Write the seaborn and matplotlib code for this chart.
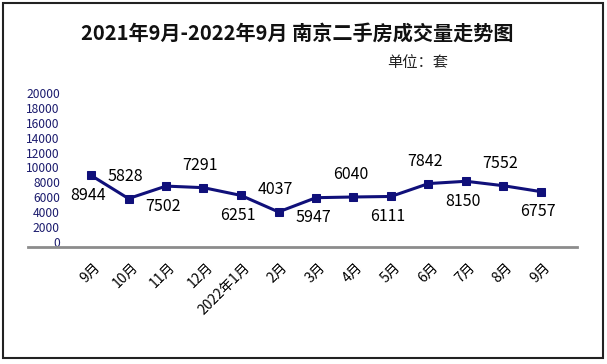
import pandas as pd
import numpy as np
import seaborn as sns
import matplotlib.pyplot as plt
import matplotlib.transforms as mtransforms
from matplotlib.patches import Rectangle

# data
months = ['9月', '10月', '11月', '12月', '2022年1月', '2月', '3月',
          '4月', '5月', '6月', '7月', '8月', '9月']
volumes = [8944, 5828, 7502, 7291, 6251, 4037, 5947,
           6040, 6111, 7842, 8150, 7552, 6757]
y_ticks = list(range(0, 20001, 2000))

title = '2021年9月-2022年9月 南京二手房成交量走势图'
unit = '单位：套'

sns.set_style('white')
plt.rcParams['font.family'] = ['Noto Sans CJK SC', 'DejaVu Sans']

line_col = '#10107a'
tick_col = '#1c1c6e'

df = pd.DataFrame({'pos': np.arange(len(months)), 'month': months, 'volume': volumes})

fig = plt.figure(figsize=(6.07, 3.64), dpi=100)
ax = fig.add_axes([28 / 607, 117 / 364, 549 / 607, 158.5 / 364])

sns.lineplot(ax=ax, data=df, x='pos', y='volume', sort=False, color=line_col,
             linewidth=2.2, marker='s', markersize=6, markeredgecolor=line_col)

# alternating data labels: below, above, below ...
for i, row in df.iterrows():
    dy = -20 if i % 2 == 0 else 22
    ax.annotate(str(row.volume), (row.pos, row.volume), xytext=(-3, dy),
                textcoords='offset pixels', ha='center', va='center',
                fontsize=11.5, color='black')

ax.set_xlim(-1.68, 12.96)
ax.set_ylim(-671, 20600)
ax.set_yticks(y_ticks)
ax.set_yticklabels([str(t) for t in y_ticks], fontsize=8.7, color=tick_col)
ax.tick_params(axis='y', length=0, pad=-23)

ax.set_xticks(df.pos)
ax.set_xticklabels(months, rotation=45, ha='right', va='center',
                   rotation_mode='anchor', fontsize=10, color='black')
ax.tick_params(axis='x', length=0, pad=13)
shift = mtransforms.ScaledTranslation(7 / 100, 0, fig.dpi_scale_trans)
for lab in ax.get_xticklabels():
    lab.set_transform(lab.get_transform() + shift)

ax.set_xlabel('')
ax.set_ylabel('')
for side in ['top', 'right', 'left']:
    ax.spines[side].set_visible(False)
ax.spines['bottom'].set_color('#8c8c8c')
ax.spines['bottom'].set_linewidth(2)

fig.text(297 / 607, 1 - 33 / 364, title, ha='center', va='center',
         fontsize=14.5, fontweight='bold', color='#111111')
fig.text(418 / 607, 1 - 62 / 364, unit, ha='center', va='center',
         fontsize=11, color='#222222')

fig.patches.append(Rectangle((3 / 607, 6 / 364), 600 / 607, 355 / 364,
                             transform=fig.transFigure, fill=False,
                             edgecolor='#222222', linewidth=1.5))

fig.savefig('out.png', dpi=100)
